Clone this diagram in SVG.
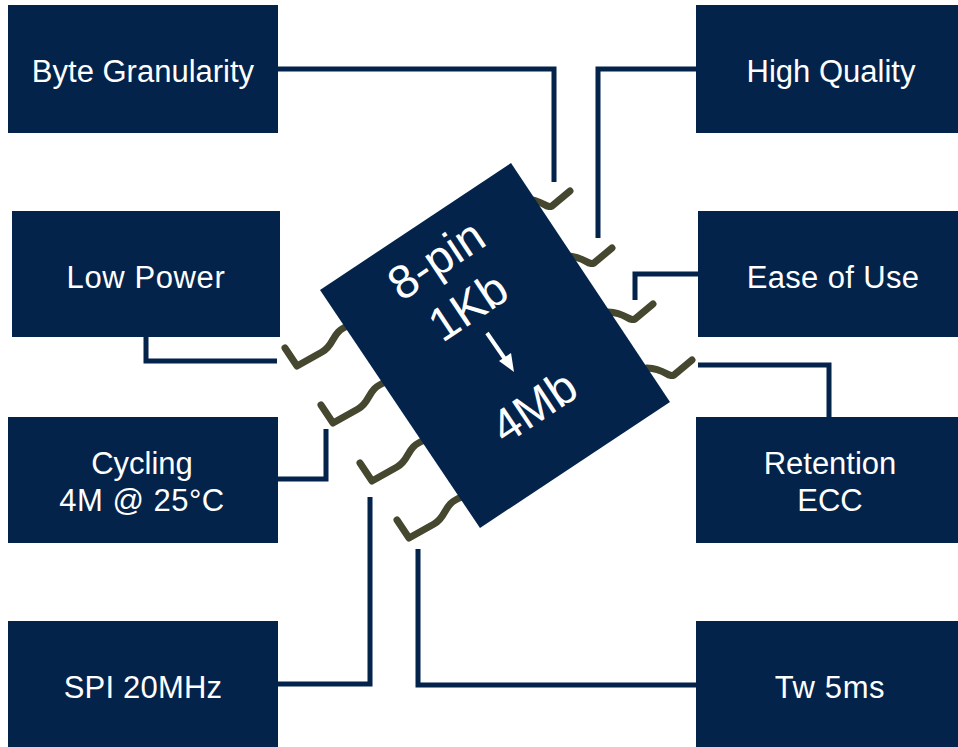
<svg xmlns="http://www.w3.org/2000/svg" width="958" height="747" viewBox="0 0 958 747">
<style>
.box{fill:#03234b}
.t{font-family:"Liberation Sans",Arial,sans-serif;font-size:31px;fill:#fff;text-anchor:middle}
.c{font-family:"Liberation Sans",Arial,sans-serif;font-size:47px;fill:#fff;text-anchor:middle}
.w{fill:none;stroke:#03234b;stroke-width:5}
.p{fill:none;stroke:#45462f;stroke-width:7;stroke-linejoin:round;stroke-linecap:round;filter:url(#soft)}
</style>
<defs>
<filter id="soft" x="-20%" y="-20%" width="140%" height="140%"><feGaussianBlur stdDeviation="0.7"/></filter>
<path id="pl" class="p" d="M285 348L297 366L322 352C336 344 330 332 350 325"/>
<path id="pr" class="p" d="M570 191L552 206C546 209 544 200 525 199"/>
</defs>
<rect width="958" height="747" fill="#fff"/>
<g id="connectors">
<path class="w" d="M278 69H554V182"/>
<path class="w" d="M696 69H598V238"/>
<path class="w" d="M698 274H635V300"/>
<path class="w" d="M698 365H829V417"/>
<path class="w" d="M146 337V361H277"/>
<path class="w" d="M278 479H326V429"/>
<path class="w" d="M278 684H370V497"/>
<path class="w" d="M696 685H418V549"/>
</g>
<g id="chip">
<use href="#pl"/><use href="#pl" x="36" y="57"/><use href="#pl" x="75" y="115"/><use href="#pl" x="112" y="172"/>
<use href="#pr"/><use href="#pr" x="42" y="57"/><use href="#pr" x="83" y="113"/><use href="#pr" x="122" y="169"/>
<polygon class="box" points="511,163 320,290 480,528 670,402"/>
<text class="c" transform="translate(445 273) rotate(-33.6)">8-pin</text>
<text class="c" transform="translate(477 320) rotate(-33.6)">1Kb</text>
<text class="c" transform="translate(543 420) rotate(-33.6)">4Mb</text>
<path d="M487 333L507 362" stroke="#fff" stroke-width="4" fill="none"/>
<polygon points="514,372 499,361 511,353" fill="#fff"/>
</g>
<g id="byte"><rect class="box" x="8" y="5" width="270" height="128"/><text class="t" x="143" y="82">Byte Granularity</text></g>
<g id="quality"><rect class="box" x="696" y="5" width="262" height="128"/><text class="t" x="831" y="82">High Quality</text></g>
<g id="power"><rect class="box" x="12" y="211" width="268" height="126"/><text class="t" x="146" y="288" letter-spacing="0.6">Low Power</text></g>
<g id="ease"><rect class="box" x="698" y="211" width="260" height="126"/><text class="t" x="833" y="288" letter-spacing="0.35">Ease of Use</text></g>
<g id="cycling"><rect class="box" x="8" y="417" width="270" height="126"/><text class="t" x="142" y="474">Cycling</text><text class="t" x="142" y="511" letter-spacing="0.5">4M @ 25°C</text></g>
<g id="retention"><rect class="box" x="696" y="417" width="262" height="126"/><text class="t" x="830" y="474">Retention</text><text class="t" x="830" y="511">ECC</text></g>
<g id="spi"><rect class="box" x="8" y="621" width="270" height="126"/><text class="t" x="143" y="698" letter-spacing="0.2">SPI 20MHz</text></g>
<g id="tw"><rect class="box" x="696" y="621" width="262" height="126"/><text class="t" x="830" y="698" letter-spacing="0.6">Tw 5ms</text></g>
</svg>
